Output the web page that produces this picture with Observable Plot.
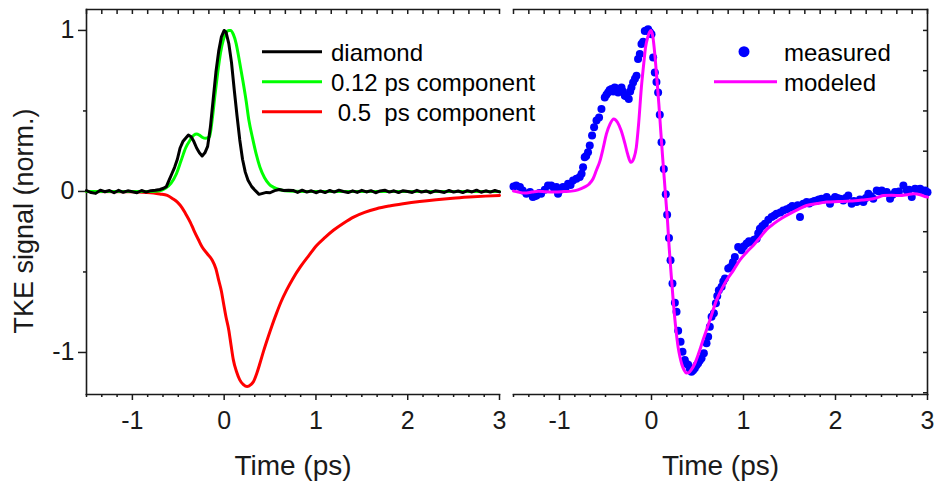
<!DOCTYPE html>
<html>
<head>
<meta charset="utf-8">
<script src="https://cdn.jsdelivr.net/npm/d3@7"></script>
<script src="https://cdn.jsdelivr.net/npm/@observablehq/plot@0.6"></script>
<style>
  html, body { margin: 0; padding: 0; background: #fff; }
  #wrap { position: relative; width: 938px; height: 483px; overflow: hidden; font-family: "Liberation Sans", Arial, sans-serif; }
  #wrap > svg, #wrap > div { position: absolute; top: 0; }
</style>
</head>
<body>
<div id="wrap"></div>
<script>
// ---------- data ----------
const xDomain = [-1.5, 3];
const yDomain = [-1.261, 1.13];
const xMajorTicks = [-1, 0, 1, 2, 3];
const xMinorStep = 1 / 6;
const yMajorTicks = [-1, 0, 1];
const yMinorTicks = [-0.5, 0.5];
const yRightTicks = [-1.25, -1, -0.75, -0.5, -0.25, 0, 0.25, 0.5, 0.75, 1];

const legendLeft = ["diamond", "0.12 ps component", " 0.5  ps component"];
const legendRight = ["measured", "modeled"];
const xTitle = "Time (ps)";
const yTitle = "TKE signal (norm.)";

// diamond (black, noisy)
const diamondT = [-1.50,-1.45,-1.40,-1.35,-1.30,-1.25,-1.20,-1.15,-1.10,-1.05,-1.00,-0.95,-0.90,-0.85,-0.80,-0.75,
  -0.70,-0.66,-0.63,-0.60,-0.57,-0.54,-0.51,-0.48,-0.45,-0.42,-0.39,-0.36,-0.33,-0.30,-0.27,-0.24,-0.21,-0.18,-0.15,-0.12,-0.09,-0.06,-0.03,
  0.00,0.02,0.05,0.08,0.11,0.14,0.17,0.20,0.23,0.26,0.30,0.34,0.38,0.42,0.46,0.50,0.55,0.60,0.65,0.70,
  0.75,0.80,0.85,0.90,0.95,1.00,1.05,1.10,1.15,1.20,1.25,1.30,1.35,1.40,1.45,1.50,1.55,1.60,1.65,1.70,1.75,1.80,1.85,1.90,1.95,
  2.00,2.05,2.10,2.15,2.20,2.25,2.30,2.35,2.40,2.45,2.50,2.55,2.60,2.65,2.70,2.75,2.80,2.85,2.90,2.95,3.00];
const diamondY = [0.005,-0.007,-0.012,0.008,-0.002,0.006,-0.008,0.007,-0.005,0.004,-0.002,-0.008,0.006,-0.004,0.005,0.007,
  0.012,0.02,0.03,0.07,0.11,0.15,0.20,0.27,0.31,0.33,0.35,0.34,0.31,0.27,0.24,0.22,0.24,0.28,0.40,0.57,0.74,0.87,0.96,
  1.00,0.99,0.92,0.80,0.63,0.47,0.32,0.20,0.12,0.07,0.03,0.005,-0.018,-0.012,-0.006,-0.008,0.005,0.012,0.006,0.008,
  0.006,-0.006,0.008,-0.004,0.004,-0.008,0.003,-0.007,0.006,-0.004,0.008,0.000,-0.007,0.004,-0.006,0.007,-0.003,0.005,-0.008,0.003,0.008,-0.004,0.004,-0.007,0.005,
  0.000,-0.006,0.007,-0.004,0.003,-0.008,0.004,0.000,-0.006,0.006,-0.004,0.003,-0.007,0.005,-0.003,0.008,-0.005,0.004,-0.004,0.006,-0.003];

// 0.12 ps component (green)
const fastT = [-1.50,-0.80,-0.70,-0.64,-0.58,-0.52,-0.47,-0.42,-0.37,-0.33,-0.30,-0.27,-0.24,-0.20,-0.16,-0.13,-0.10,-0.07,-0.04,-0.01,
  0.02,0.05,0.07,0.10,0.13,0.16,0.20,0.24,0.27,0.31,0.35,0.39,0.44,0.49,0.54,0.60,0.66,0.75,1.00,3.00];
const fastY = [0,0,0.005,0.02,0.05,0.11,0.19,0.27,0.32,0.35,0.357,0.35,0.337,0.33,0.34,0.45,0.60,0.74,0.86,0.94,
  0.985,1.0,1.0,0.975,0.92,0.83,0.70,0.56,0.44,0.33,0.23,0.15,0.085,0.045,0.025,0.012,0.005,0.002,0,0];

// 0.5 ps component (red)
const slowT = [-1.50,-1.00,-0.85,-0.77,-0.70,-0.62,-0.56,-0.51,-0.46,-0.42,-0.37,-0.33,-0.28,-0.24,-0.18,-0.13,-0.09,-0.06,-0.03,-0.007,
  0.02,0.05,0.075,0.10,0.135,0.17,0.21,0.25,0.29,0.32,0.355,0.39,0.43,0.48,0.52,0.57,0.62,0.68,0.75,0.83,0.92,1.01,1.10,1.19,1.30,1.41,
  1.53,1.66,1.80,1.95,2.13,2.31,2.49,2.67,2.85,3.00];
const slowY = [0,-0.002,-0.006,-0.01,-0.016,-0.025,-0.045,-0.066,-0.10,-0.138,-0.19,-0.241,-0.30,-0.345,-0.39,-0.427,-0.48,-0.551,-0.62,-0.695,
  -0.78,-0.86,-0.955,-1.046,-1.12,-1.17,-1.20,-1.212,-1.20,-1.18,-1.13,-1.067,-0.99,-0.902,-0.835,-0.757,-0.685,-0.613,-0.54,-0.469,-0.40,-0.334,-0.285,-0.241,-0.197,-0.159,
  -0.13,-0.107,-0.09,-0.076,-0.062,-0.051,-0.042,-0.035,-0.029,-0.025];

// modeled (magenta)
const modelT = [-1.50,-1.45,-1.38,-1.30,-1.23,-1.15,-1.05,-0.95,-0.87,-0.80,-0.73,-0.68,-0.635,-0.60,-0.56,-0.525,-0.49,-0.45,-0.41,-0.37,
  -0.33,-0.29,-0.26,-0.225,-0.19,-0.165,-0.14,-0.11,-0.085,-0.065,-0.04,-0.02,-0.005,0.015,0.036,0.058,0.08,0.10,0.12,0.14,0.16,0.175,
  0.19,0.205,0.22,0.235,0.25,0.27,0.29,0.31,0.33,0.355,0.38,0.405,0.435,0.47,0.51,0.56,0.634,0.707,0.76,0.816,0.89,0.96,1.03,1.106,
  1.18,1.25,1.33,1.42,1.505,1.60,1.687,1.80,1.904,2.03,2.158,2.29,2.41,2.47,2.52,2.61,2.70,2.78,2.85,2.92,2.97,3.00];
const modelY = [0.002,-0.004,-0.01,-0.004,0.002,-0.002,-0.004,-0.001,0.002,0.01,0.027,0.045,0.079,0.13,0.19,0.27,0.357,0.42,0.45,0.43,
  0.378,0.30,0.233,0.181,0.21,0.274,0.42,0.646,0.79,0.893,0.96,0.99,1.0,0.96,0.853,0.70,0.543,0.38,0.22,0.07,-0.08,-0.19,
  -0.33,-0.45,-0.56,-0.67,-0.77,-0.88,-0.97,-1.03,-1.075,-1.11,-1.127,-1.125,-1.105,-1.07,-1.01,-0.923,-0.80,-0.675,-0.61,-0.551,-0.49,-0.427,-0.38,-0.335,
  -0.285,-0.237,-0.20,-0.165,-0.138,-0.11,-0.087,-0.075,-0.066,-0.063,-0.06,-0.053,-0.045,-0.035,-0.025,-0.024,-0.025,-0.02,-0.015,-0.02,-0.031,-0.035];

// measured (blue dots)
const measT = [-1.50,-1.47,-1.43,-1.40,-1.36,-1.32,-1.29,-1.27,-1.25,-1.22,-1.20,-1.16,-1.125,-1.09,-1.06,-1.034,-1.016,-0.99,-0.962,-0.935,
  -0.907,-0.88,-0.853,-0.816,-0.78,-0.76,-0.744,-0.726,-0.71,-0.69,-0.671,-0.646,-0.624,-0.598,-0.57,-0.544,-0.508,-0.49,-0.472,-0.455,
  -0.435,-0.415,-0.40,-0.38,-0.363,-0.345,-0.326,-0.31,-0.29,-0.27,-0.247,-0.232,-0.218,-0.20,-0.18,-0.163,-0.146,-0.127,-0.109,-0.091,
  -0.073,-0.055,-0.037,-0.018,0.00,0.018,0.036,0.054,0.072,0.09,0.109,0.134,0.155,0.17,0.19,0.207,0.228,0.254,0.272,0.29,
  0.316,0.337,0.362,0.38,0.399,0.415,0.435,0.453,0.471,0.49,0.507,0.525,0.544,0.569,0.598,0.616,0.634,0.653,0.678,0.70,
  0.715,0.732,0.762,0.78,0.798,0.834,0.86,0.885,0.906,0.942,0.979,1.005,1.034,1.06,1.088,1.115,1.143,1.16,1.178,1.205,
  1.233,1.27,1.306,1.335,1.36,1.40,1.432,1.47,1.505,1.53,1.559,1.59,1.614,1.65,1.687,1.715,1.741,1.77,1.795,1.82,
  1.85,1.875,1.904,1.94,1.965,1.995,2.02,2.049,2.085,2.11,2.139,2.176,2.20,2.23,2.265,2.303,2.33,2.357,2.385,2.411,
  2.448,2.475,2.503,2.53,2.557,2.593,2.62,2.647,2.69,2.738,2.775,2.80,2.829,2.865,2.89,2.92,2.95,2.974,3.00];
const measY = [0.03,0.037,0.027,0.006,-0.014,-0.004,-0.035,-0.03,-0.025,-0.01,-0.014,0.01,0.037,0.037,0.02,0.027,-0.014,0.01,0.027,0.02,
  0.048,0.04,0.068,0.079,0.089,0.11,0.15,0.212,0.22,0.243,0.285,0.347,0.398,0.44,0.46,0.512,0.584,0.60,0.615,0.63,
  0.636,0.62,0.646,0.64,0.615,0.63,0.646,0.62,0.594,0.59,0.574,0.62,0.646,0.677,0.70,0.718,0.822,0.853,0.915,0.93,
  0.997,1.0,1.007,0.99,0.976,0.832,0.739,0.68,0.615,0.476,0.305,0.14,-0.017,-0.145,-0.289,-0.427,-0.572,-0.691,-0.747,-0.865,
  -0.933,-0.995,-1.046,-1.07,-1.077,-1.10,-1.119,-1.11,-1.098,-1.08,-1.067,-1.05,-1.036,-1.005,-0.943,-0.902,-0.84,-0.778,-0.757,-0.695,
  -0.65,-0.613,-0.592,-0.56,-0.541,-0.479,-0.469,-0.44,-0.407,-0.345,-0.365,-0.34,-0.324,-0.31,-0.314,-0.30,-0.293,-0.26,-0.231,-0.215,
  -0.20,-0.175,-0.159,-0.15,-0.138,-0.13,-0.118,-0.11,-0.101,-0.09,-0.097,-0.085,-0.159,-0.076,-0.066,-0.075,-0.066,-0.06,-0.056,-0.05,
  -0.045,-0.05,-0.035,-0.076,-0.05,-0.035,-0.04,-0.045,-0.056,-0.04,-0.025,-0.076,-0.06,-0.066,-0.05,-0.066,-0.04,-0.014,-0.03,-0.045,
  0.006,0.0,0.006,-0.01,-0.004,-0.045,-0.02,-0.004,0.0,0.037,0.006,0.01,-0.035,0.017,0.01,0.017,0.005,0.006,-0.005];

// ---------- build ----------
const zip = (T, Y) => T.map((t, i) => ({t, v: Y[i]}));
const diamond = zip(diamondT, diamondY);
const fast = zip(fastT, fastY);
const slow = zip(slowT, slowY);
const modeled = zip(modelT, modelY);
const measured = zip(measT, measY);

const xAllTicks = d3.range(-9, 19).map(k => k * xMinorStep);
const xMinorTicks = xAllTicks.filter(v => !xMajorTicks.some(m => Math.abs(m - v) < 1e-6));

const FONT = "'Liberation Sans', Arial, sans-serif";
const AX = "#1a1a1a";
const H = 483, MT = 9, MB = 89;
const TICK_FS = 25, TITLE_FS = 28;
const fmt = d => String(d);
const none = () => "";

const common = {
  height: H, marginTop: MT, marginBottom: MB,
  x: {domain: xDomain},
  y: {domain: yDomain},
  style: {fontFamily: FONT, fontSize: TICK_FS + "px", color: AX, background: "transparent", overflow: "visible"}
};

function xAxes() {
  return [
    Plot.frame({anchor: "bottom", stroke: AX, strokeWidth: 1.6}),
    Plot.frame({anchor: "top", stroke: AX, strokeWidth: 1.6}),
    Plot.axisX({anchor: "bottom", ticks: xMajorTicks, tickSize: 6, tickPadding: 11, tickFormat: fmt,
      strokeWidth: 1.5, fontSize: TICK_FS, label: null}),
    Plot.axisX({anchor: "bottom", ticks: [], tickSize: 0, fontSize: TITLE_FS,
      label: xTitle, labelAnchor: "center", labelOffset: 80, labelArrow: "none"}),
    Plot.axisX({anchor: "bottom", ticks: xMinorTicks, tickSize: 3, strokeWidth: 1.5, tickFormat: none, label: null}),
    Plot.axisX({anchor: "top", ticks: xAllTicks, tickSize: -4, strokeWidth: 1.5, tickFormat: none, label: null})
  ];
}

const left = Plot.plot({
  ...common,
  width: 506, marginLeft: 86, marginRight: 7,
  marks: [
    ...xAxes(),
    Plot.frame({anchor: "left", stroke: AX, strokeWidth: 1.6}),
    Plot.axisY({anchor: "left", ticks: yMajorTicks, tickSize: 8, tickPadding: 4, strokeWidth: 1.5, tickFormat: fmt, fontSize: TICK_FS, label: null}),
    Plot.axisY({anchor: "left", ticks: yMinorTicks, tickSize: 3, strokeWidth: 1.5, tickFormat: none, label: null}),
    Plot.line(slow, {x: "t", y: "v", stroke: "#ff0000", strokeWidth: 3, curve: "monotone-x"}),
    Plot.line(fast, {x: "t", y: "v", stroke: "#00ff00", strokeWidth: 3, curve: "monotone-x"}),
    Plot.line(diamond, {x: "t", y: "v", stroke: "#000000", strokeWidth: 3, curve: "linear"})
  ]
});

const right = Plot.plot({
  ...common,
  width: 432, marginLeft: 7, marginRight: 11,
  marks: [
    ...xAxes(),
    Plot.frame({anchor: "right", stroke: AX, strokeWidth: 1.6}),
    Plot.axisY({anchor: "right", ticks: yRightTicks, tickSize: -5, strokeWidth: 1.5, tickFormat: none, label: null}),
    Plot.dot(measured, {x: "t", y: "v", r: 4, fill: "#0000ff", stroke: "none"}),
    Plot.line(modeled, {x: "t", y: "v", stroke: "#ff00ff", strokeWidth: 3, curve: "monotone-x"})
  ]
});

const wrap = document.getElementById("wrap");
left.style.left = "0px";
right.style.left = "506px";
wrap.appendChild(left);
wrap.appendChild(right);

// overlay: y title and legends
const ns = "http://www.w3.org/2000/svg";
const lg = document.createElementNS(ns, "svg");
lg.setAttribute("width", 938); lg.setAttribute("height", 483);
lg.style.position = "absolute"; lg.style.left = "0px"; lg.style.top = "0px";

const yt = document.createElementNS(ns, "text");
yt.setAttribute("transform", "translate(33,221) rotate(-90)");
yt.setAttribute("text-anchor", "middle");
yt.setAttribute("font-family", FONT); yt.setAttribute("font-size", 27); yt.setAttribute("fill", AX);
yt.textContent = yTitle;
lg.appendChild(yt);

const leftColors = ["#000000", "#00ff00", "#ff0000"];
legendLeft.forEach((label, i) => {
  const y = 51.7 + 30 * i;
  const l = document.createElementNS(ns, "line");
  l.setAttribute("x1", 262); l.setAttribute("x2", 322); l.setAttribute("y1", y); l.setAttribute("y2", y);
  l.setAttribute("stroke", leftColors[i]); l.setAttribute("stroke-width", 3);
  lg.appendChild(l);
  const t = document.createElementNS(ns, "text");
  t.setAttribute("x", 331); t.setAttribute("y", y + 9);
  t.setAttribute("font-family", FONT); t.setAttribute("font-size", 24);
  t.setAttribute("xml:space", "preserve"); t.style.whiteSpace = "pre";
  t.textContent = label;
  lg.appendChild(t);
});
legendRight.forEach((label, i) => {
  const y = 51.7 + 30 * i;
  if (i === 0) {
    const c = document.createElementNS(ns, "circle");
    c.setAttribute("cx", 744); c.setAttribute("cy", y); c.setAttribute("r", 5.5); c.setAttribute("fill", "#0000ff");
    lg.appendChild(c);
  } else {
    const l = document.createElementNS(ns, "line");
    l.setAttribute("x1", 714); l.setAttribute("x2", 777); l.setAttribute("y1", y); l.setAttribute("y2", y);
    l.setAttribute("stroke", "#ff00ff"); l.setAttribute("stroke-width", 3);
    lg.appendChild(l);
  }
  const t = document.createElementNS(ns, "text");
  t.setAttribute("x", 784); t.setAttribute("y", y + 9);
  t.setAttribute("font-family", FONT); t.setAttribute("font-size", 24);
  t.textContent = label;
  lg.appendChild(t);
});
wrap.appendChild(lg);
</script>
</body>
</html>
